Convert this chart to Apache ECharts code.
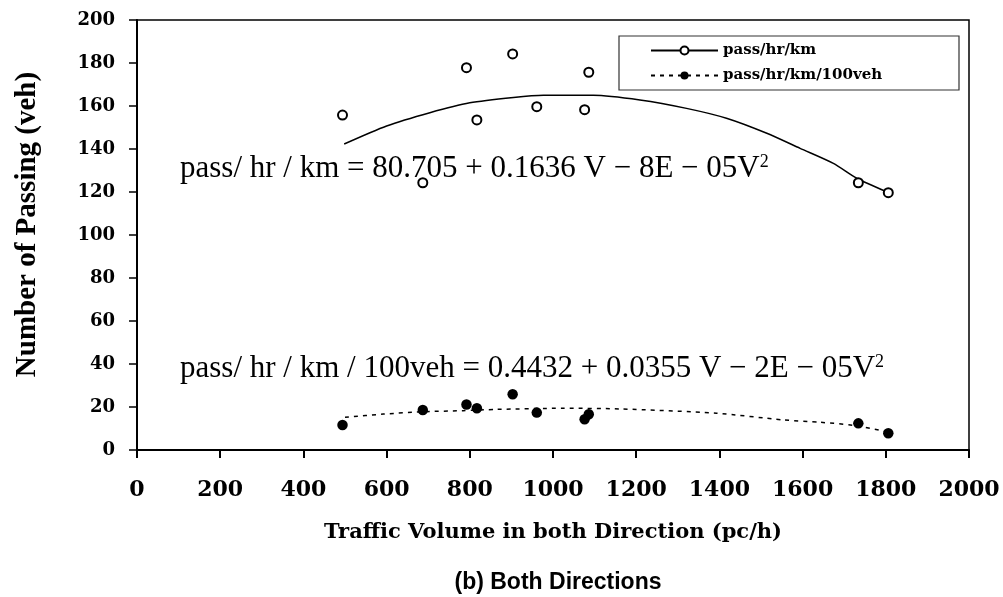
<!DOCTYPE html>
<html>
<head>
<meta charset="utf-8">
<script src="https://cdn.jsdelivr.net/npm/echarts@6/dist/echarts.min.js"></script>
<style>html,body{margin:0;padding:0;background:#fff}#c{width:1003px;height:597px}</style>
</head>
<body>
<div id="c"></div>
<script>
// Observed data (traffic volume in both directions, pc/h)
const volume = [494, 687, 792, 817, 903, 961, 1076, 1086, 1734, 1806];
const passPerKm = [155.8, 124.3, 177.8, 153.5, 184.2, 159.7, 158.3, 175.7, 124.3, 119.7];
const passPer100veh = [11.6, 18.6, 21.2, 19.4, 25.9, 17.4, 14.3, 16.6, 12.4, 7.8];

// Trend curves
const trendVolume1 = [498, 600, 704, 800, 905, 977, 1097, 1209, 1321, 1417, 1514, 1594, 1674, 1730, 1802];
const trendPerKm = [142.3, 150.7, 156.9, 161.5, 164, 165, 165, 162.8, 158.9, 154.3, 147.3, 140.3, 133.3, 126.4, 120.1];
const trendVolume2 = [500, 592, 688, 784, 865, 1025, 1161, 1393, 1553, 1642, 1721, 1802];
const trendPer100veh = [15.2, 16.7, 17.8, 18.3, 18.9, 19.4, 19.1, 17.1, 14, 12.9, 11.5, 8.5];

const seriesNames = ['pass/hr/km', 'pass/hr/km/100veh'];
const eq1 = 'pass/ hr / km = 80.705 + 0.1636 V − 8E − 05V';
const eq2 = 'pass/ hr / km / 100veh = 0.4432 + 0.0355 V − 2E − 05V';
const xTitle = 'Traffic Volume in both Direction (pc/h)';
const yTitle = 'Number of Passing (veh)';
const chartTitle = '(b) Both Directions';

const zip = (a, b) => a.map((v, i) => [v, b[i]]);

const chart = echarts.init(document.getElementById('c'), null, {renderer: 'canvas'});
const serifB = 'DejaVu Serif';
const eqRich = {
  m: {fontFamily: 'Liberation Serif', fontSize: 31, lineHeight: 32, fill: '#000'},
  s: {fontFamily: 'Liberation Serif', fontSize: 18, lineHeight: 18, verticalAlign: 'top', fill: '#000'}
};
chart.setOption({
  backgroundColor: '#fff',
  animation: false,
  title: {
    text: chartTitle, left: 553, top: 566, textAlign: 'center',
    textStyle: {fontFamily: 'Liberation Sans', fontWeight: 'bold', fontSize: 23, color: '#000'}
  },
  grid: {left: 137, right: 34, top: 20, bottom: 147, show: true, borderColor: '#000', borderWidth: 1.5, backgroundColor: 'transparent'},
  legend: {
    data: seriesNames,
    orient: 'vertical', left: 619, top: 36,
    padding: [7, 51, 7, 31], itemGap: 10, itemWidth: 67, itemHeight: 10,
    borderColor: '#333', borderWidth: 1.2, backgroundColor: '#fff',
    textStyle: {fontFamily: serifB, fontWeight: 'bold', fontSize: 15, color: '#000', lineHeight: 13, width: 185}
  },
  xAxis: {
    type: 'value', min: 0, max: 2000, interval: 200,
    name: xTitle, nameLocation: 'middle', nameGap: 72,
    nameTextStyle: {fontFamily: serifB, fontWeight: 'bold', fontSize: 21, color: '#000'},
    axisLine: {show: true, onZero: false, lineStyle: {color: '#000', width: 2}},
    axisTick: {show: true, inside: false, length: 8, lineStyle: {color: '#000', width: 2}},
    axisLabel: {margin: 29, fontFamily: serifB, fontWeight: 'bold', fontSize: 22, color: '#000', formatter: v => String(v)},
    splitLine: {show: false}
  },
  yAxis: {
    type: 'value', min: 0, max: 200, interval: 20,
    name: yTitle, nameLocation: 'middle', nameGap: 95,
    nameTextStyle: {fontFamily: 'Liberation Serif', fontWeight: 'bold', fontSize: 29, color: '#000', padding: [0, 0, 0, 21]},
    axisLine: {show: true, onZero: false, lineStyle: {color: '#000', width: 2}},
    axisTick: {show: true, inside: false, length: 8, lineStyle: {color: '#000', width: 1.5}},
    axisLabel: {margin: 22, fontFamily: serifB, fontWeight: 'bold', fontSize: 18, color: '#000', formatter: v => String(v)},
    splitLine: {show: false}
  },
  series: [
    {
      name: seriesNames[0], type: 'line', data: zip(trendVolume1, trendPerKm),
      smooth: 0.25, showSymbol: false, symbol: 'emptyCircle', symbolSize: 8,
      lineStyle: {color: '#000', width: 1.5}, itemStyle: {color: '#000'}, z: 2
    },
    {
      name: seriesNames[1], type: 'line', data: zip(trendVolume2, trendPer100veh),
      smooth: 0.25, showSymbol: false, symbol: 'circle', symbolSize: 8,
      lineStyle: {color: '#000', width: 1.5, type: [4, 5]}, itemStyle: {color: '#000'}, z: 2
    },
    {
      name: 'obs1', type: 'scatter', data: zip(volume, passPerKm),
      symbol: 'emptyCircle', symbolSize: 9,
      itemStyle: {color: '#000', borderColor: '#000', borderWidth: 1.6, opacity: 1}, z: 3
    },
    {
      name: 'obs2', type: 'scatter', data: zip(volume, passPer100veh),
      symbol: 'circle', symbolSize: 10.5,
      itemStyle: {color: '#000', opacity: 1}, z: 3
    }
  ],
  graphic: [
    {
      type: 'text', left: 180, top: 153, z: 10,
      style: {text: '{m|' + eq1 + '}{s|2}', rich: eqRich}
    },
    {
      type: 'text', left: 180, top: 353, z: 10,
      style: {text: '{m|' + eq2 + '}{s|2}', rich: eqRich}
    }
  ]
});
</script>
</body>
</html>
